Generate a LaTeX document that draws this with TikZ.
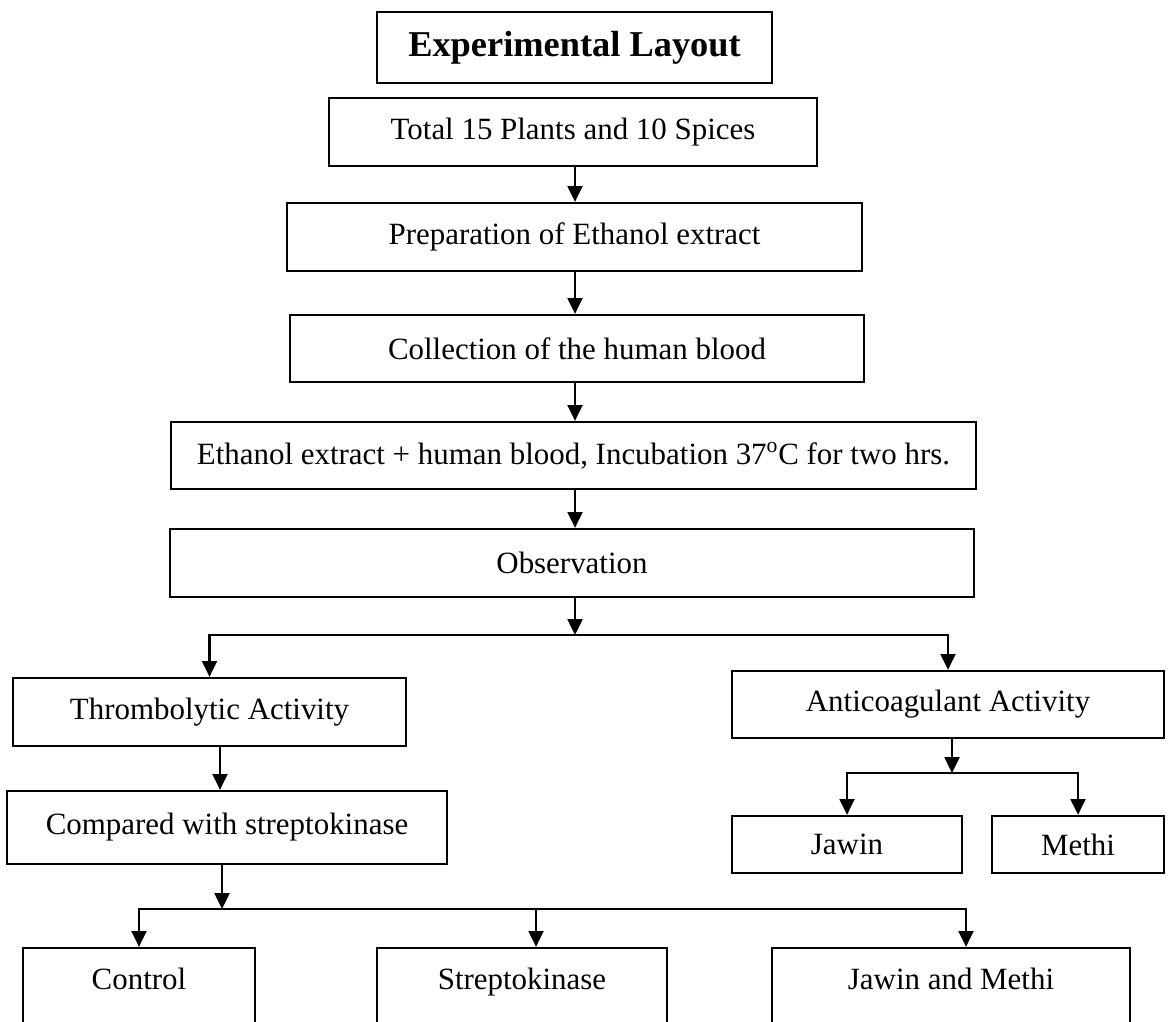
\documentclass[tikz,border=0pt]{standalone}
\usepackage{fontspec}
\setmainfont{Liberation Serif}
\usetikzlibrary{arrows.meta, positioning}

\begin{document}
\begin{tikzpicture}[x=0.2mm, y=-0.2mm,
  stage/.style={draw, line width=1.3pt, minimum height=13.6mm, inner sep=0pt,
    font=\fontsize{17.6}{21}\selectfont},
  leaf/.style={stage, anchor=base, minimum height=0pt, text height=8.2mm, text depth=20mm},
  arr/.style={-{Triangle[length=9pt,width=8.5pt]}, line width=1.2pt},
  link/.style={line width=1.2pt}]
  \useasboundingbox (0,0) rectangle (1168,1022);
  \clip (0,0) rectangle (1168,1022);
  % Main column
  \node[stage, minimum width=79mm, minimum height=14.2mm,
    font=\fontsize{20.7}{24}\selectfont\bfseries] (title) at (574.5,47.5) {Experimental Layout};
  \node[stage, minimum width=97.6mm] (plants) at (573,132) {Total 15 Plants and 10 Spices};
  \node[stage, minimum width=115mm] (extract) at (574.5,237) {Preparation of Ethanol extract};
  \node[stage, minimum width=114.8mm, minimum height=13.4mm] (blood) at (577,348.5) {Collection of the human blood};
  \node[stage, minimum width=161mm, minimum height=13.4mm] (incub) at (573.5,455.5)
    {Ethanol extract + human blood, Incubation 37\textsuperscript{o}C for two hrs.};
  \node[stage, minimum width=160.8mm] (obs) at (572,563) {Observation};
  % Two activities
  \node[stage, minimum width=78.6mm] (thromb) at (209.5,712) {Thrombolytic Activity};
  \node[stage, minimum width=86.4mm, minimum height=13.4mm] (anti) at (948,704.5) {Anticoagulant Activity};
  \node[stage, minimum width=88mm, minimum height=14.6mm] (strepcomp) at (227,827.5) {Compared with streptokinase};
  \node[stage, minimum width=46mm, minimum height=11.4mm] (jawin) at (847,844.5) {Jawin};
  \node[stage, minimum width=34.4mm, minimum height=11.4mm] (methi) at (1078,844.5) {Methi};
  % Bottom row (runs off the page)
  \node[leaf, minimum width=46.4mm] (control) at (139,989) {Control};
  \node[leaf, minimum width=58mm] (strepto) at (522,989) {Streptokinase};
  \node[leaf, minimum width=71.6mm] (both) at (951,989) {Jawin and Methi};
  % Arrows down the column
  \coordinate (spine) at (575,0);
  \foreach \a/\b in {plants/extract, extract/blood, blood/incub, incub/obs}
    \draw[arr] (\a.south -| spine) -- (\b.north -| spine);
  % First split
  \coordinate (split) at (575,635);
  \draw[arr] (obs.south -| split) -- (split);
  \draw[arr] (anti.north |- split) -- (thromb.north |- split) -- (thromb.north);
  \draw[arr] (thromb.north |- split) -- (anti.north |- split) -- (anti.north);
  % Thrombolytic side
  \coordinate (tcol) at (220,0);
  \draw[arr] (thromb.south -| tcol) -- (strepcomp.north -| tcol);
  \coordinate (csplit) at (222,909);
  \coordinate (cstrep) at (536,909);
  \coordinate (cboth) at (966,909);
  \draw[arr] (strepcomp.south -| csplit) -- (csplit);
  \draw[arr] (cboth) -- (control.north |- csplit) -- (control.north);
  \draw[arr] (control.north |- csplit) -- (cboth) -- (cboth |- both.north);
  \draw[arr] (cstrep) -- (cstrep |- strepto.north);
  % Anticoagulant side
  \coordinate (asplit) at (952,773);
  \draw[arr] (anti.south -| asplit) -- (asplit);
  \draw[arr] (methi.north |- asplit) -- (jawin.north |- asplit) -- (jawin.north);
  \draw[arr] (jawin.north |- asplit) -- (methi.north |- asplit) -- (methi.north);
\end{tikzpicture}
\end{document}
